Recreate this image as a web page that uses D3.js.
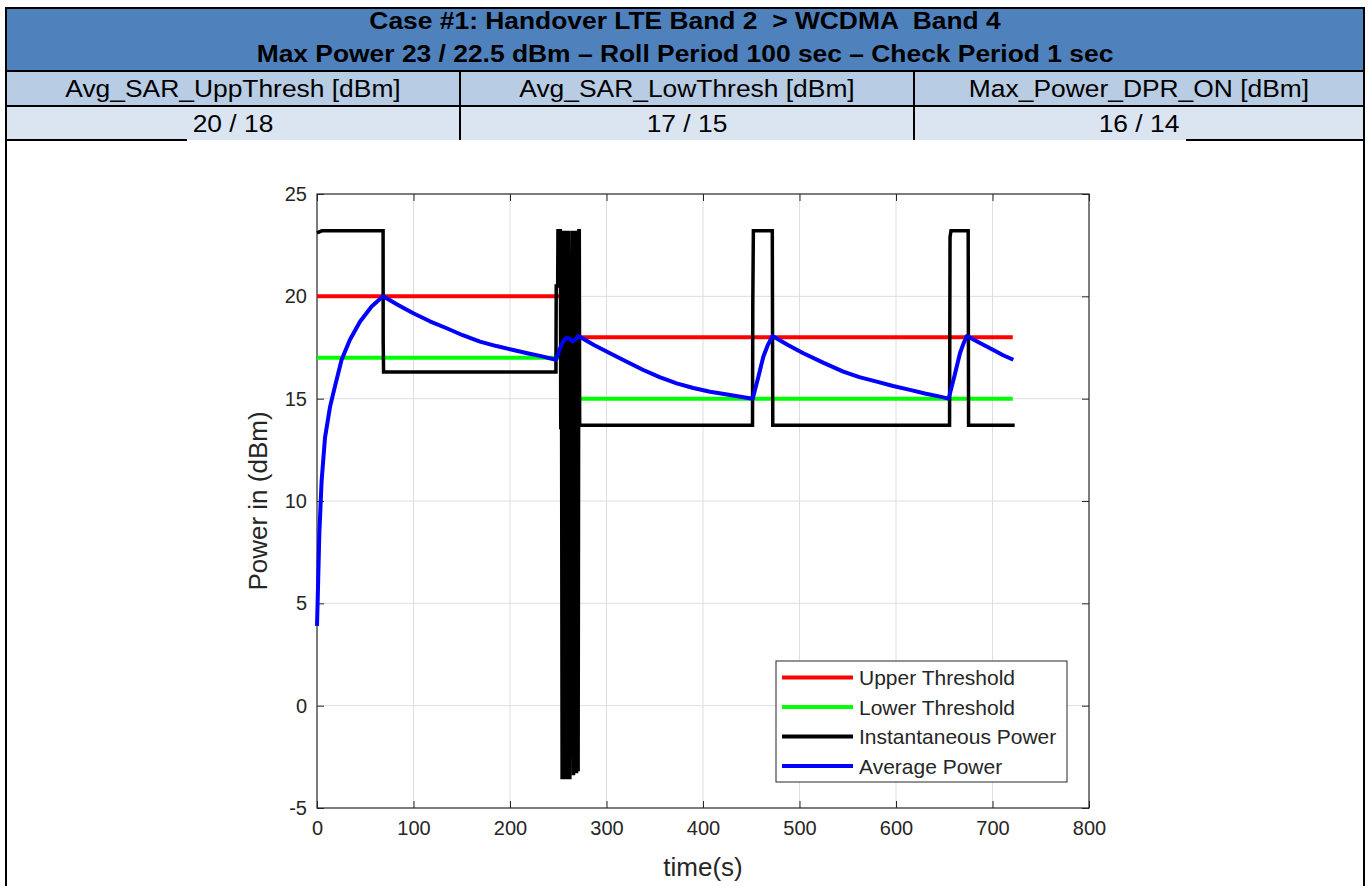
<!DOCTYPE html>
<html><head><meta charset="utf-8">
<script src="https://cdn.jsdelivr.net/npm/d3@7"></script>
<style>
body{margin:0;background:#fff}
svg{display:block}
text{font-family:"Liberation Sans",Arial,Helvetica,sans-serif}
</style>
</head><body>
<svg id="c" width="1368" height="886"></svg>
<script>
// ---------------- data ----------------
const titleLines = ["Case #1: Handover LTE Band 2  > WCDMA  Band 4",
                    "Max Power 23 / 22.5 dBm \u2013 Roll Period 100 sec \u2013 Check Period 1 sec"];
const paramNames  = ["Avg_SAR_UppThresh [dBm]", "Avg_SAR_LowThresh [dBm]", "Max_Power_DPR_ON [dBm]"];
const paramValues = ["20 / 18", "17 / 15", "16 / 14"];

const xTicks = [0, 100, 200, 300, 400, 500, 600, 700, 800];
const yTicks = [-5, 0, 5, 10, 15, 20, 25];
const xLabel = "time(s)";
const yLabel = "Power in (dBm)";

// thresholds: two periods (before / after handover)
const thrStart = [0, 266];
const thrEnd   = [264, 721];
const upperThr = [20, 18];
const lowerThr = [17, 15];

// instantaneous power
const instTime  = [0, 5, 68.5, 68.6, 69, 247.6, 247.9, 249.4, 249.7, 252.2,
                   252.6, 253.2, 254.0, 254.8, 255.6, 256.4, 257.2, 258.0, 258.8, 259.6, 260.4, 261.2, 262.0,
                   265.0, 265.8, 266.6, 267.4, 268.2, 269.0, 269.8, 270.6, 271.4, 271.8, 272.2,
                   451.3, 451.6, 452.2, 471.8, 472.3,
                   655.5, 656, 657, 674.8, 675.2, 723];
const instPower = [23.1, 23.2, 23.2, 17.8, 16.3, 16.3, 20.5, 20.5, 23.2, 23.2,
                   13.5, 23.2, -3.6, 23.2, -3.6, 23.2, -3.6, 23.2, -3.6, 23.2, -3.6, 23.2, -3.6,
                   23.2, -3.4, 23.2, -3.3, 23.2, -3.3, 23.2, -3.2, 23.2, 23.2, 13.7,
                   13.7, 19.7, 23.2, 23.2, 13.7,
                   13.7, 22.9, 23.2, 23.2, 13.7, 13.7];

// average power
const avgTime  = [0, 1, 2.4, 4.8, 8.3, 13.5, 18.6, 25.5, 34, 44.5, 56.6, 68.5,
                  84, 99.8, 117, 134.4, 151, 168.9, 186, 203.4, 218, 231, 247.4,
                  250, 253, 256, 259, 262, 265, 268, 270.8,
                  287, 303.6, 321, 338.2, 355, 372.7, 390, 407.3, 425, 441.8, 451.5,
                  457, 462.5, 467, 472,
                  488, 504, 525, 545.4, 562, 580, 597, 614.5, 630, 645.6, 654.5,
                  660.5, 666.3, 670, 673.5,
                  687, 700.9, 711, 721.6];
const avgPower = [3.9, 5.7, 8.4, 11.0, 13.1, 14.6, 15.6, 16.9, 17.87, 18.76, 19.5, 20.0,
                  19.58, 19.17, 18.78, 18.44, 18.1, 17.79, 17.57, 17.38, 17.22, 17.09, 16.9,
                  17.2, 17.6, 17.85, 17.97, 17.92, 17.8, 17.92, 18.06,
                  17.62, 17.22, 16.8, 16.4, 16.05, 15.75, 15.52, 15.34, 15.2, 15.07, 15.0,
                  16.0, 17.05, 17.6, 18.06,
                  17.62, 17.22, 16.75, 16.32, 16.05, 15.83, 15.62, 15.43, 15.25, 15.1, 15.0,
                  16.1, 17.22, 17.7, 18.06,
                  17.72, 17.38, 17.12, 16.9];

const legendLabels = ["Upper Threshold", "Lower Threshold", "Instantaneous Power", "Average Power"];
const legendColors = ["#ff0000", "#00ff00", "#000000", "#0000ff"];

// ---------------- drawing ----------------
const svg = d3.select("#c");
const axisColor = "#262626";

// ---- header table ----
const tL = 6, tR = 1364, colX = [6, 460, 914, 1364];
const rowY = [8, 71, 106, 140];
const hdr = svg.append("g");
hdr.append("rect").attr("x", tL).attr("y", rowY[0]).attr("width", tR - tL).attr("height", rowY[1] - rowY[0]).attr("fill", "#4f81bd");
hdr.append("rect").attr("x", tL).attr("y", rowY[1]).attr("width", tR - tL).attr("height", rowY[2] - rowY[1]).attr("fill", "#b8cce4");
hdr.append("rect").attr("x", tL).attr("y", rowY[2]).attr("width", tR - tL).attr("height", rowY[3] - rowY[2]).attr("fill", "#dbe5f1");

const hx = 1.1; // header text horizontal stretch
titleLines.forEach((s, i) => {
  const cx = (tL + tR) / 2, by = [29, 62][i];
  hdr.append("text").attr("transform", `translate(${cx},${by}) scale(${hx},1)`)
    .attr("text-anchor", "middle").attr("font-size", 24).attr("font-weight", "bold")
    .attr("fill", "#000").style("white-space", "pre").text(s);
});
paramNames.forEach((s, i) => {
  const cx = (colX[i] + colX[i + 1]) / 2;
  hdr.append("text").attr("transform", `translate(${cx},97) scale(${hx},1)`)
    .attr("text-anchor", "middle").attr("font-size", 24).attr("fill", "#000").text(s);
  hdr.append("text").attr("transform", `translate(${cx},131.5) scale(${hx},1)`)
    .attr("text-anchor", "middle").attr("font-size", 24).attr("fill", "#000").text(paramValues[i]);
});
// borders
const bl = (x1, y1, x2, y2) => hdr.append("line").attr("x1", x1).attr("y1", y1).attr("x2", x2).attr("y2", y2)
  .attr("stroke", "#000").attr("stroke-width", 2);
bl(tL, rowY[0], tR, rowY[0]);
bl(tL, rowY[1], tR, rowY[1]);
bl(tL, rowY[2], tR, rowY[2]);
bl(tL, rowY[3], 187, rowY[3]);
bl(1186, rowY[3], tR, rowY[3]);
bl(tL, rowY[0] - 1, tL, 886);
bl(tR, rowY[0] - 1, tR, 886);
bl(colX[1], rowY[1], colX[1], rowY[3]);
bl(colX[2], rowY[1], colX[2], rowY[3]);

// ---- chart ----
const x = d3.scaleLinear().domain([0, 800]).range([317, 1089]);
const y = d3.scaleLinear().domain([-5, 25]).range([808, 194]);

const grid = svg.append("g").attr("stroke", "#dedede").attr("stroke-width", 1);
xTicks.slice(1, -1).forEach(t => grid.append("line").attr("x1", x(t)).attr("x2", x(t)).attr("y1", y(-5)).attr("y2", y(25)));
yTicks.slice(1, -1).forEach(t => grid.append("line").attr("y1", y(t)).attr("y2", y(t)).attr("x1", x(0)).attr("x2", x(800)));

const styleAxis = g => {
  g.select(".domain").remove();
  g.selectAll(".tick line").attr("stroke", axisColor);
  g.selectAll(".tick text").attr("fill", axisColor).attr("font-size", 20)
    .attr("font-family", "'Liberation Sans',Arial,sans-serif");
};
const fmt = d => String(d);
svg.append("g").attr("transform", `translate(0,${y(-5)})`)
  .call(d3.axisBottom(x).tickValues(xTicks).tickFormat(fmt).tickSizeInner(-7).tickSizeOuter(0).tickPadding(13)).call(styleAxis);
svg.append("g").attr("transform", `translate(${x(0)},0)`)
  .call(d3.axisLeft(y).tickValues(yTicks).tickFormat(fmt).tickSizeInner(-7).tickSizeOuter(0).tickPadding(10)).call(styleAxis);
svg.append("g").attr("transform", `translate(0,${y(25)})`)
  .call(d3.axisTop(x).tickValues(xTicks).tickSizeInner(-7).tickSizeOuter(0).tickFormat("")).call(styleAxis);
svg.append("g").attr("transform", `translate(${x(800)},0)`)
  .call(d3.axisRight(y).tickValues(yTicks).tickSizeInner(-7).tickSizeOuter(0).tickFormat("")).call(styleAxis);

svg.append("rect").attr("x", x(0)).attr("y", y(25)).attr("width", x(800) - x(0)).attr("height", y(-5) - y(25))
  .attr("fill", "none").attr("stroke", axisColor).attr("stroke-width", 1.2);

// axis labels
svg.append("text").attr("x", (x(0) + x(800)) / 2).attr("y", 876).attr("text-anchor", "middle")
  .attr("font-size", 26).attr("fill", axisColor).text(xLabel);
svg.append("text").attr("transform", `translate(267,${(y(25) + y(-5)) / 2}) rotate(-90)`).attr("text-anchor", "middle")
  .attr("font-size", 26).attr("fill", axisColor).text(yLabel);

// series
const plot = svg.append("g");
thrStart.forEach((s, i) => {
  plot.append("line").attr("x1", x(s)).attr("x2", x(thrEnd[i])).attr("y1", y(upperThr[i])).attr("y2", y(upperThr[i]))
    .attr("stroke", legendColors[0]).attr("stroke-width", 4);
});
thrStart.forEach((s, i) => {
  plot.append("line").attr("x1", x(s)).attr("x2", x(thrEnd[i])).attr("y1", y(lowerThr[i])).attr("y2", y(lowerThr[i]))
    .attr("stroke", legendColors[1]).attr("stroke-width", 4);
});
const line = d3.line().x(d => x(d[0])).y(d => y(d[1]));
plot.append("path").datum(instTime.map((t, i) => [t, instPower[i]])).attr("d", line)
  .attr("fill", "none").attr("stroke", legendColors[2]).attr("stroke-width", 3.5).attr("stroke-linejoin", "miter");
plot.append("path").datum(avgTime.map((t, i) => [t, avgPower[i]])).attr("d", line)
  .attr("fill", "none").attr("stroke", legendColors[3]).attr("stroke-width", 4).attr("stroke-linejoin", "round");

// legend
const lg = svg.append("g");
lg.append("rect").attr("x", 776).attr("y", 661).attr("width", 291).attr("height", 121)
  .attr("fill", "#fff").attr("stroke", axisColor).attr("stroke-width", 1);
legendLabels.forEach((s, i) => {
  const yy = 677.5 + i * 29.5;
  lg.append("line").attr("x1", 782).attr("x2", 853).attr("y1", yy).attr("y2", yy)
    .attr("stroke", legendColors[i]).attr("stroke-width", 4);
  lg.append("text").attr("x", 859).attr("y", yy).attr("dy", "0.36em").attr("font-size", 21)
    .attr("fill", axisColor).text(s);
});
</script>
</body></html>
